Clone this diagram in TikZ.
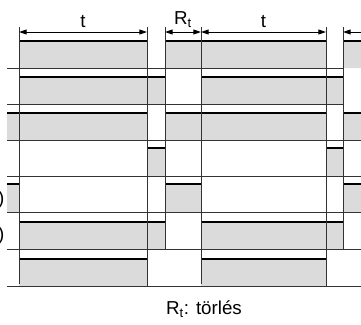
\documentclass[tikz,border=0pt]{standalone}
\usepackage{fontspec}
\setmainfont{Liberation Sans}
\usetikzlibrary{arrows.meta}

\begin{document}
\begin{tikzpicture}[x=0.03cm, y=-0.03cm, font=\fontsize{16}{19}\selectfont,
        >={Triangle[length=6.5pt, width=4.2pt]}]
        \useasboundingbox (0,0) rectangle (361,324);
        \coordinate (A) at (19,32) {};
        \coordinate (B) at (147,32) {};
        \coordinate (C) at (165,32) {};
        \coordinate (D) at (201,32) {};
        \coordinate (E) at (326,32) {};
        \coordinate (F) at (343,32) {};
        \coordinate (G) at (361,32) {};
        % grey pulses
        \fill[black!14] (19,41) rectangle (147,68)  (165,41) rectangle (326,68)  (343,41) rectangle (361,68)
                (19,77) rectangle (165,104)  (201,77) rectangle (343,104)
                (7,113) rectangle (147,140)  (165,113) rectangle (326,140)  (343,113) rectangle (361,140)
                (147,148) rectangle (165,176)  (326,148) rectangle (343,176)
                (7,184) rectangle (19,212)  (165,184) rectangle (201,212)  (343,184) rectangle (361,212)
                (19,222) rectangle (165,249)  (201,222) rectangle (343,249)
                (19,259) rectangle (147,286)  (201,259) rectangle (326,286);
        \draw[line width=1.4pt, black] (19,41)--(147,41)  (165,41)--(326,41)  (343,41)--(361,41)
                (19,77)--(165,77)  (201,77)--(343,77)
                (7,113)--(147,113)  (165,113)--(326,113)  (343,113)--(361,113)
                (147,148)--(165,148)  (326,148)--(343,148)
                (7,184)--(19,184)  (165,184)--(201,184)  (343,184)--(361,184)
                (19,222)--(165,222)  (201,222)--(343,222)
                (19,259)--(147,259)  (201,259)--(326,259);
        % base lines
        \draw[line width=0.6pt, black!80] (7,68)--(343,68)  (7,104)--(343,104)
                (7,140)--(361,140)  (7,176)--(361,176)  (7,212)--(361,212)
                (7,249)--(361,249)  (7,286)--(361,286);
        % time marks
        \draw[line width=0.6pt, black!80] (19,27)--(19,284)  (147,27)--(147,286)  (165,27)--(165,249)
                (201,27)--(201,284)  (326,27)--(326,286)  (343,27)--(343,249);
        \draw[line width=0.8pt, black, <->] (A) -- node[anchor=south]{t} (B);
        \draw[line width=0.8pt, black, <->] (C) -- node[anchor=south]{R\textsubscript{t}} (D);
        \draw[line width=0.8pt, black, <->] (D) -- node[anchor=south]{t} (E);
        \draw[line width=0.8pt, black, <-] (F) -- (G);
        \node[anchor=east, inner sep=0pt] (p1) at (4.5,200) {)};
        \node[anchor=east, inner sep=0pt] (p2) at (4.5,236) {)};
        \node[anchor=base] (leg) at (204,314) {R\textsubscript{t}: törlés};
    \end{tikzpicture}
\end{document}
